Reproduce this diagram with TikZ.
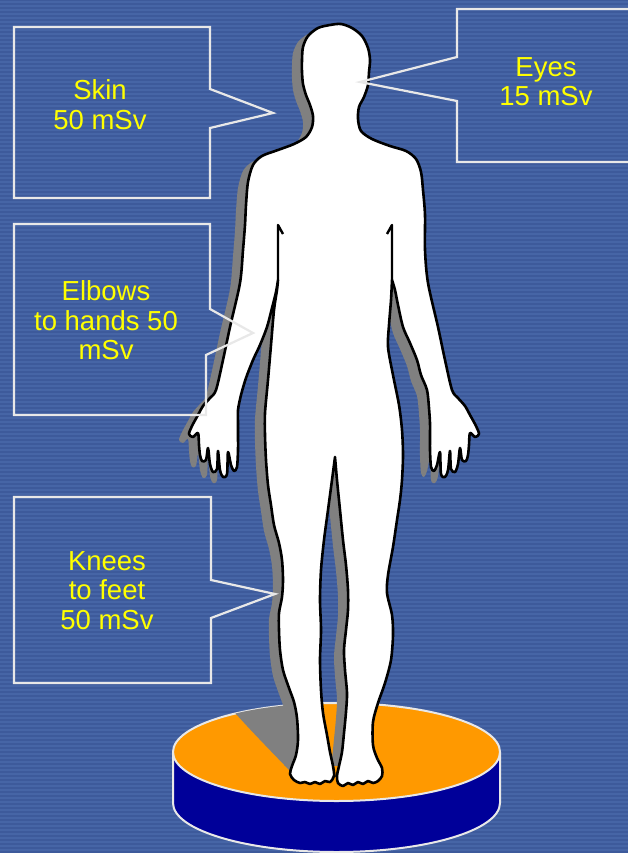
\documentclass[tikz,border=0pt]{standalone}
\usepackage{fontspec}
\setmainfont{Liberation Sans}
\usepackage{tikz}
\usetikzlibrary{positioning}

\definecolor{bgblue}{RGB}{61,90,155}
\definecolor{stripeblue}{RGB}{70,101,166}
\definecolor{boxline}{RGB}{232,232,232}
\definecolor{doseyellow}{RGB}{255,255,0}
\definecolor{shadowgray}{RGB}{128,128,128}
\definecolor{disctop}{RGB}{255,153,0}
\definecolor{discside}{RGB}{0,0,153}

\tikzset{
  callout/.style={draw=boxline, line width=2.2pt, line join=miter},
  dose/.style={text=doseyellow, align=center, inner sep=0pt,
    font=\fontsize{27.5}{29.3}\selectfont},
  outline/.style={fill=white, draw=black, line width=2.6pt, line join=round},
  crease/.style={draw=black, line width=2.4pt, line join=round},
  rim/.style={draw=boxline, line width=2pt},
}

% silhouette: torso/right leg, left leg/torso, arms and head
\newcommand{\bodypath}[1]{%
  \path[#1]
  plot[smooth, tension=0.5] coordinates {(392,280) (391,300) (389,325) (388,347)
    (393,375) (399,405) (402,430) (403,455) (402,480) (400,500) (397,520) (393,547)
    (388,575) (387,593) (392,615) (393,635) (391,660) (385,683) (378,703) (373,722)
    (373,745) (377,758) (382,768) (382,776) (378,781) (373,783) (368,781) (363,784)
    (358,782) (353,785) (348,783) (343,786) (338,783) (337,776) (339,766) (342,752)
    (344,733) (346,712) (347,693) (345,670) (344,650) (346,630) (348,610) (348,590)
    (346,565) (343,540) (340,510) (337,480) (335,457)}
  -- plot[smooth, tension=0.5] coordinates {(335,457) (332,480) (328,510) (324,540)
    (321,570) (320,600) (321,630) (320,660) (321,690) (323,713) (327,735) (330,752)
    (333,766) (334,776) (330,782) (325,781) (320,784) (315,782) (310,784) (305,782)
    (300,783) (294,780) (290,774) (292,766) (296,755) (298,740) (297,718) (294,702)
    (289,688) (283,670) (280,650) (279,630) (279,613) (282,597) (283,580) (282,560)
    (279,543) (274,525) (271,505) (268,485) (266,460) (265,435) (265,413) (268,380)
    (271,345) (274,310) (277,290) (278,280)}
  -- plot[smooth, tension=0.5] coordinates {(278,280) (276,292) (272,308) (267,327)
    (260,345) (253,360) (246,378) (241,395) (238,410) (238,423)
    (238,435) (238,450) (237,467) (234,471) (231,465) (228,452) (227,474) (223,477)
    (220,470) (218,451) (217,469) (213,472) (210,464) (208,448) (206,460) (202,461)
    (200,455) (199,445) (198,433) (193,437) (189,434) (192,426) (198,415) (203,406)
    (210,398) (216,390) (223,360) (230,327) (240,283) (243,250) (245,225) (246,205)
    (248,182) (253,165) (262,156) (278,150) (294,144) (306,137) (312,127) (313,116)
    (310,105) (306,95) (303,84) (302,72) (302,60) (303,47) (308,36) (318,28) (330,25)
    (341,24) (352,28) (362,36) (368,48) (370,60) (369,72) (368,85) (364,97) (359,107)
    (358,119) (361,131) (372,139) (390,146) (406,151) (416,159) (421,172) (423,190)
    (425,215) (425,250) (428,283) (438,327) (445,360) (452,390)
    (458,398) (465,406) (470,415) (476,426) (479,434) (475,437) (470,433) (469,445)
    (468,455) (466,461) (462,460) (460,448) (458,464) (455,472) (451,469) (450,451)
    (448,470) (445,477) (441,474) (440,452) (437,465) (434,471) (431,467) (430,450)
    (430,435) (430,423) (429,408) (427,390) (421,375) (417,360) (410,343) (403,327)
    (398,305) (395,290) (392,280)}
  -- cycle;}

\begin{document}
\begin{tikzpicture}[x=1pt, y=-1pt]
\useasboundingbox (0,0) rectangle (628,853);

% striped backdrop
\fill[bgblue] (0,0) rectangle (628,853);
\foreach \y in {1,5,...,853}
  \fill[stripeblue] (0,\y) rectangle (628,\y+1.6);

% platform
\fill[discside] (173,752) -- (173,803)
  arc[start angle=180, end angle=0, x radius=163.5, y radius=49] -- (500,752) -- cycle;
\draw[rim] (173,752) -- (173,803)
  arc[start angle=180, end angle=0, x radius=163.5, y radius=49] -- (500,752);
\filldraw[rim, fill=disctop] (336.5,752) ellipse[x radius=163.5, y radius=49];

% shadow on the platform
\begin{scope}
  \clip (336.5,752) ellipse[x radius=163.5, y radius=49];
  \fill[shadowgray] (225,690) -- (292,690) -- (299,745) -- (291,772)
    .. controls (268,748) and (250,730) .. (228,705) -- cycle;
\end{scope}

% shadow of the body
\begin{scope}
  \clip (0,0) rectangle (628,765);
  \begin{scope}[shift={(-10,6)}]
    \bodypath{fill=shadowgray}
  \end{scope}
\end{scope}

% body
\bodypath{outline}
\draw[crease] (283,234) -- (278,225) -- (278,280);
\draw[crease] (387,234) -- (392,225) -- (392,280);

% callouts
\coordinate (skin tip) at (273,113);
\coordinate (eyes tip) at (360,82);
\coordinate (elbows tip) at (253,333);
\coordinate (knees tip) at (275,594);

\draw[callout] (14,27) -- (210,27) -- (210,89) -- (skin tip) -- (210,128)
  -- (210,198) -- (14,198) -- cycle;
\draw[callout] (630,9) -- (457,9) -- (457,57) -- (eyes tip) -- (457,101)
  -- (457,162) -- (630,162);
\draw[callout] (14,224) -- (210,224) -- (210,309) -- (elbows tip) -- (206,355)
  -- (206,415) -- (14,415) -- cycle;
\draw[callout] (14,497) -- (211,497) -- (211,580) -- (knees tip) -- (211,618)
  -- (211,683) -- (14,683) -- cycle;

\node[dose] (skin) at (100,104.6) {Skin\\50 mSv};
\node[dose] (eyes) at (546,81.8) {Eyes\\15 mSv};
\node[dose] (elbows) at (106,320.3) {Elbows\\to hands 50\\mSv};
\node[dose] (knees) at (107,590.4) {Knees\\to feet\\50 mSv};
\end{tikzpicture}
\end{document}
